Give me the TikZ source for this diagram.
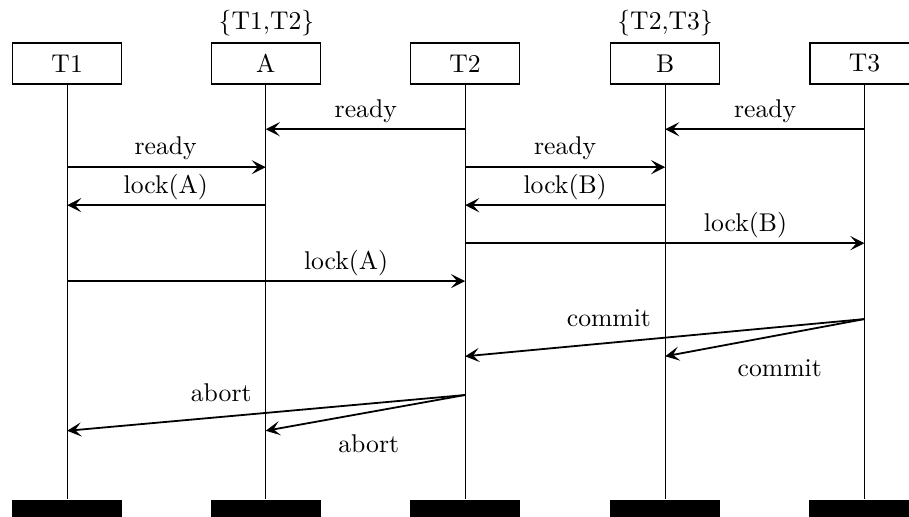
\documentclass[tikz,border=0pt]{standalone}
\usepackage{amsmath}
\usetikzlibrary{calc,arrows.meta}
\tikzset{
  inst/.style={draw,line width=0.5pt,minimum width=1.49cm,minimum height=0.56cm,inner sep=0pt},
  instend/.style={fill=black,minimum width=1.51cm,minimum height=0.3cm,inner sep=0pt,anchor=north},
  msg/.style={-{Stealth[length=5.5pt,width=5.5pt,inset=2.4pt]},line width=0.7pt},
  msglabel/.style={inner sep=0pt}
}
\begin{document}
\begin{tikzpicture}
    \useasboundingbox (0,0) rectangle (12.45,-7.07);

    \node[inst] (T1) at (0.92, -0.87) {T1};
    \node[inst] (A) at (3.64, -0.87) {A};
    \node[inst] (T2) at (6.37, -0.87) {T2};
    \node[inst] (B) at (9.11, -0.87) {B};
    \node[inst] (T3) at (11.84, -0.87) {T3};
    \node[msglabel] (Aset) at (3.65, -0.32) {\{T1,T2\}};
    \node[msglabel] (Bset) at (9.11, -0.32) {\{T2,T3\}};

    \node[instend] (T1end) at (0.92, -6.84) {};
    \node[instend] (Aend) at (3.64, -6.84) {};
    \node[instend] (T2end) at (6.37, -6.84) {};
    \node[instend] (Bend) at (9.11, -6.84) {};
    \node[instend] (T3end) at (11.84, -6.84) {};
    \draw (T1) -- (T1end);
    \draw (A) -- (Aend);
    \draw (T2) -- (T2end);
    \draw (B) -- (Bend);
    \draw (T3) -- (T3end);

    % messages
    \coordinate (m1s) at (6.37, -1.77);
    \coordinate (m1e) at (3.64, -1.77);
    \coordinate (m2s) at (11.84, -1.77);
    \coordinate (m2e) at (9.11, -1.77);
    \coordinate (m3s) at (0.92, -2.29);
    \coordinate (m3e) at (3.64, -2.29);
    \coordinate (m4s) at (6.37, -2.29);
    \coordinate (m4e) at (9.11, -2.29);
    \coordinate (m5s) at (3.64, -2.81);
    \coordinate (m5e) at (0.92, -2.81);
    \coordinate (m6s) at (9.11, -2.81);
    \coordinate (m6e) at (6.37, -2.81);
    \coordinate (m7s) at (6.37, -3.33);
    \coordinate (m7e) at (11.84, -3.33);
    \coordinate (m8s) at (0.92, -3.85);
    \coordinate (m8e) at (6.37, -3.85);
    \coordinate (cs) at (11.84, -4.37);
    \coordinate (c1e) at (6.37, -4.88);
    \coordinate (c2e) at (9.11, -4.88);
    \coordinate (as) at (6.37, -5.41);
    \coordinate (a1e) at (0.92, -5.90);
    \coordinate (a2e) at (3.64, -5.90);

    \draw[msg] (m1s) -- (m1e);
    \draw[msg] (m2s) -- (m2e);
    \draw[msg] (m3s) -- (m3e);
    \draw[msg] (m4s) -- (m4e);
    \draw[msg] (m5s) -- (m5e);
    \draw[msg] (m6s) -- (m6e);
    \draw[msg] (m7s) -- (m7e);
    \draw[msg] (m8s) -- (m8e);
    \draw[msg] (cs) -- (c1e);
    \draw[msg] (cs) -- (c2e);
    \draw[msg] (as) -- (a1e);
    \draw[msg] (as) -- (a2e);

    \node[msglabel] (l1) at (5.01, -1.53) {ready};
    \node[msglabel] (l2) at (10.48, -1.53) {ready};
    \node[msglabel] (l3) at (2.27, -2.03) {ready};
    \node[msglabel] (l4) at (7.74, -2.03) {ready};
    \node[msglabel] (l5) at (2.27, -2.56) {lock(A)};
    \node[msglabel] (l6) at (7.74, -2.56) {lock(B)};
    \node[msglabel] (l7) at (10.21, -3.08) {lock(B)};
    \node[msglabel] (l8) at (4.74, -3.60) {lock(A)};
    \node[msglabel] (l9) at (8.34, -4.36) {commit};
    \node[msglabel] (l10) at (10.68, -5.04) {commit};
    \node[msglabel] (l11) at (3.03, -5.38) {abort};
    \node[msglabel] (l12) at (5.05, -6.08) {abort};
  \end{tikzpicture}
\end{document}
